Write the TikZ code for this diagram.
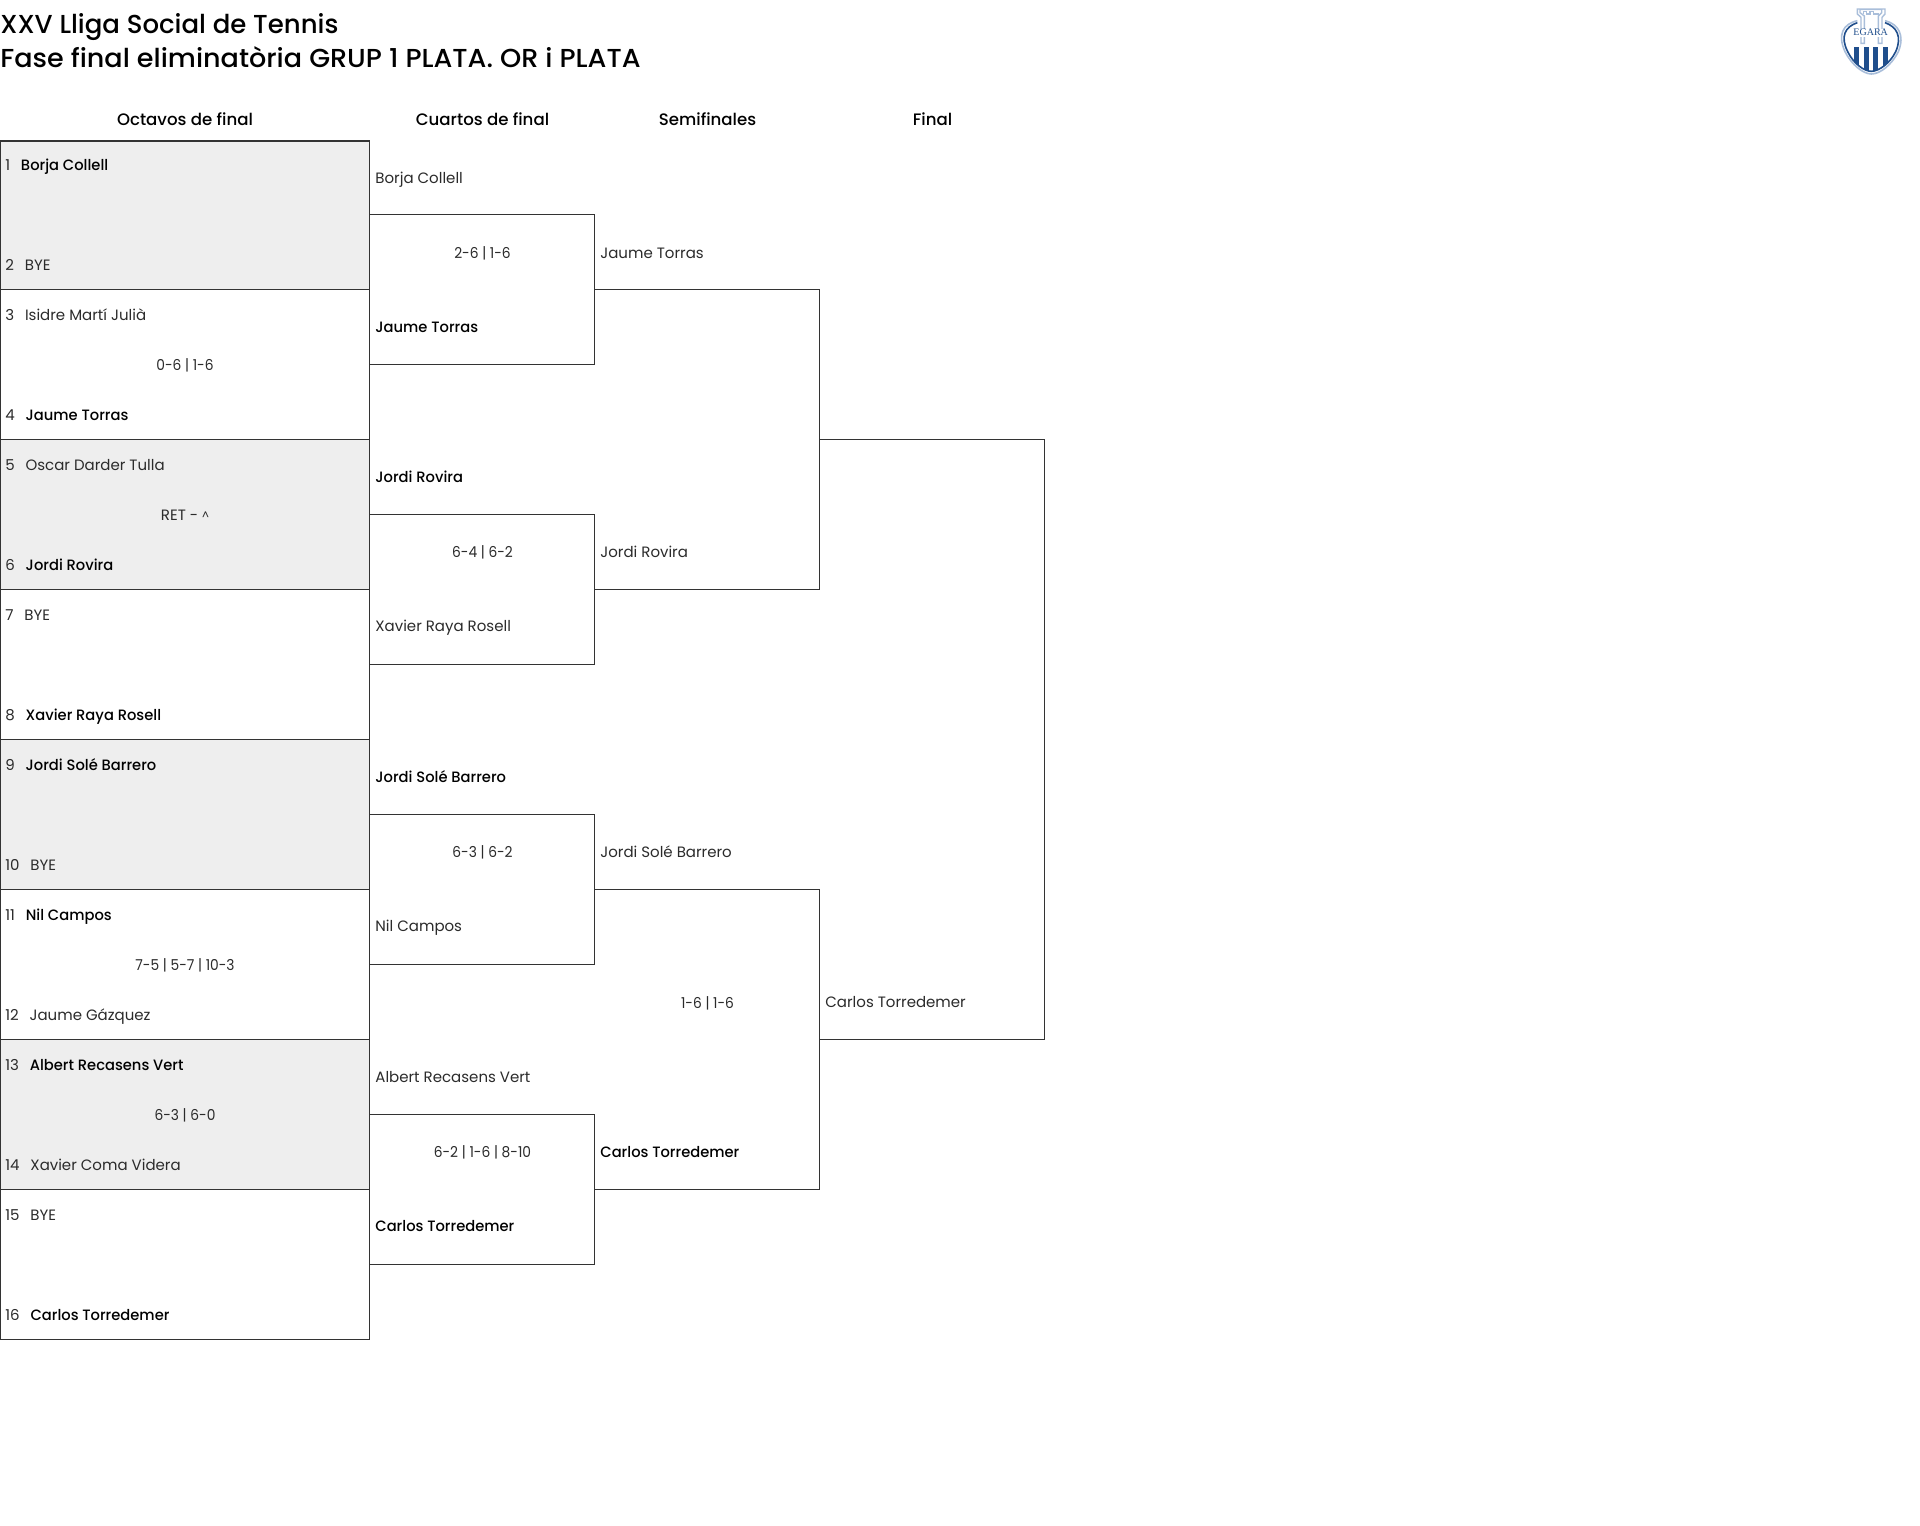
\documentclass[tikz,border=0pt]{standalone}
\usepackage{fontspec}
\usepackage{graphicx}
\setmainfont{Poppins}
\newfontfamily\medf{Poppins Medium}
\newfontfamily\logof{Liberation Serif}
\definecolor{ln}{HTML}{333333}
\definecolor{tx}{HTML}{2B2B2B}
\definecolor{gr}{HTML}{EEEEEE}
\definecolor{logod}{HTML}{1F4E8C}
\definecolor{logol}{HTML}{A9BEDA}
\newcommand{\bodyf}{\fontsize{7.5}{9}\selectfont}
\newcommand{\wn}[1]{{\medf\color{black}\scalebox{.98}[1]{#1}}}
\newcommand{\pl}[2]{#1\hspace{5.4pt}#2}
\newcommand{\scr}[1]{\scalebox{.92}[1]{#1}}
\tikzset{
  x=0.5pt,y=-0.5pt,
  bx/.style={draw=none,anchor=north west,inner sep=0pt,outer sep=0pt},
  brk/.style={draw=ln,line width=0.6pt,line join=miter},
  txt/.style={anchor=base west,inner sep=0pt,font=\bodyf,text=tx},
  score/.style={anchor=base,inner sep=0pt,font=\bodyf,text=tx},
  head/.style={anchor=center,inner sep=0pt,font=\medf\fontsize{8.3}{10}\selectfont,text=black},
  ttl/.style={anchor=base west,inner sep=0pt,font=\medf\fontsize{13}{16}\selectfont,text=black},
}
\begin{document}
\begin{tikzpicture}
\useasboundingbox[fill=white] (0,0) rectangle (1920,1525);
\node[ttl] (t1) at (0,33.3) {XXV Lliga Social de Tennis};
\node[ttl] (t2) at (0,67.2) {\scalebox{1.04}[1]{Fase final eliminatòria GRUP 1 PLATA. OR i PLATA}};
\node[head] (h1) at (185,119.6) {Octavos de final};
\node[head] (h2) at (482.5,119.6) {Cuartos de final};
\node[head] (h3) at (707.5,119.6) {Semifinales};
\node[head] (h4) at (932.5,119.6) {Final};
% round 1
\node[bx,draw=ln,line width=0.6pt,minimum width=184.75pt,minimum height=74.4pt,fill=gr] (a0) at (0,141) {};
\foreach \k/\f in {1/white,2/gr,3/white,4/gr,5/white,6/gr,7/white}{
  \node[bx,draw=ln,line width=0.6pt,minimum width=184.75pt,minimum height=75pt,fill=\f] (a\k) at (0,{139.7+150*\k}) {};
}
% round 2
\foreach \k in {0,1,2,3}{
  \node[bx,minimum width=112.5pt,minimum height=75pt] (b\k) at (369.5,{214.7+300*\k}) {};
  \draw[brk] (b\k.north west) -- (b\k.north east) -- (b\k.south east) -- (b\k.south west);
}
% round 3
\node[bx,minimum width=112.5pt,minimum height=150pt] (c0) at (594.5,289.7) {};
\node[bx,minimum width=112.5pt,minimum height=150pt] (c1) at (594.5,889.7) {};
\draw[brk] (c0.north west) -- (c0.north east) -- (c0.south east) -- (c0.south west);
\draw[brk] (c1.north west) -- (c1.north east) -- (c1.south east) -- (c1.south west);
% final
\node[bx,minimum width=112.5pt,minimum height=300pt] (d0) at (819.5,439.7) {};
\draw[brk] (d0.north west) -- (d0.north east) -- (d0.south east) -- (d0.south west);
% names round 1
\foreach \k/\p/\q/\s in {
 0/{\pl{1}{\wn{Borja Collell}}}/{\pl{2}{BYE}}/{},
 1/{\pl{3}{Isidre Martí Julià}}/{\pl{4}{\wn{Jaume Torras}}}/{\scr{0-6 | 1-6}},
 2/{\pl{5}{Oscar Darder Tulla}}/{\pl{6}{\wn{Jordi Rovira}}}/{RET - \raisebox{0.3pt}{\fontsize{5.5}{6}\selectfont\^{}}},
 3/{\pl{7}{BYE}}/{\pl{8}{\wn{Xavier Raya Rosell}}}/{},
 4/{\pl{9}{\wn{Jordi Solé Barrero}}}/{\pl{10}{BYE}}/{},
 5/{\pl{11}{\wn{Nil Campos}}}/{\pl{12}{Jaume Gázquez}}/{\scr{7-5 | 5-7 | 10-3}},
 6/{\pl{13}{\wn{Albert Recasens Vert}}}/{\pl{14}{Xavier Coma Videra}}/{\scr{6-3 | 6-0}},
 7/{\pl{15}{BYE}}/{\pl{16}{\wn{Carlos Torredemer}}}/{}}{
  \node[txt] (p\k) at (5,{170.5+150*\k}) {\p};
  \node[txt] (q\k) at (5,{270.5+150*\k}) {\q};
  \node[score] (s\k) at (185,{220.5+150*\k}) {\s};
}
% names round 2
\foreach \k/\p/\q/\s in {
 0/{Borja Collell}/{\wn{Jaume Torras}}/{\scr{2-6 | 1-6}},
 1/{\wn{Jordi Rovira}}/{Xavier Raya Rosell}/{\scr{6-4 | 6-2}},
 2/{\wn{Jordi Solé Barrero}}/{Nil Campos}/{\scr{6-3 | 6-2}},
 3/{Albert Recasens Vert}/{\wn{Carlos Torredemer}}/{\scr{6-2 | 1-6 | 8-10}}}{
  \node[txt] (u\k) at (375,{183+299.7*\k}) {\p};
  \node[txt] (v\k) at (375,{332+299.7*\k}) {\q};
  \node[score] (w\k) at (482.5,{258+299.7*\k}) {\s};
}
% names round 3
\node[txt] (x0) at (600,258) {Jaume Torras};
\node[txt] (x1) at (600,557.5) {Jordi Rovira};
\node[txt] (x2) at (600,857.5) {Jordi Solé Barrero};
\node[txt] (x3) at (600,1157) {\wn{Carlos Torredemer}};
\node[score] (y1) at (707.5,1008) {\scr{1-6 | 1-6}};
\node[txt] (z0) at (825,1007.5) {Carlos Torredemer};
% logo
\begin{scope}[shift={(1800,0)},x=0.16667pt,y=-0.16667pt]
  \path[draw=logol,line width=0.7pt,fill=white] (172,27) -- (172,42) -- (183,52) -- (183,130) -- (193,130) -- (193,48) -- (180,38) -- (180,28) -- (245,28) -- (245,38) -- (235,48) -- (235,130) -- (246,130) -- (246,52) -- (255,42) -- (255,27) -- cycle;
  \draw[logol,line width=0.7pt] (190,42) -- (190,34) -- (200,34) -- (200,42) -- (210,42) -- (210,34) -- (220,34) -- (220,42) -- (238,42);
  \draw[logol,line width=0.8pt] (172,62) .. controls (128,72) and (112,105) .. (135,155) .. controls (155,195) and (190,222) .. (214,222) .. controls (240,222) and (275,195) .. (295,155) .. controls (315,105) and (295,72) .. (255,62);
  \begin{scope}
    \clip (172,68) .. controls (135,80) and (120,110) .. (143,155) .. controls (160,190) and (192,214) .. (214,214) .. controls (236,214) and (270,190) .. (287,155) .. controls (307,110) and (290,80) .. (255,68) -- cycle;
    \fill[logod] (162,140) rectangle (177,215);
    \fill[logod] (191,140) rectangle (206,215);
    \fill[logod] (220,140) rectangle (235,215);
    \fill[logod] (250,140) rectangle (264,215);
  \end{scope}
  \draw[logod,line width=0.8pt] (172,68) .. controls (135,80) and (120,110) .. (143,155) .. controls (160,190) and (192,214) .. (214,214) .. controls (236,214) and (270,190) .. (287,155) .. controls (307,110) and (290,80) .. (255,68);
  \node[inner sep=0.4pt,fill=white,text=logod,font=\logof\fontsize{5}{6}\selectfont] (egara) at (212,98) {EGARA};
\end{scope}
\end{tikzpicture}
\end{document}
